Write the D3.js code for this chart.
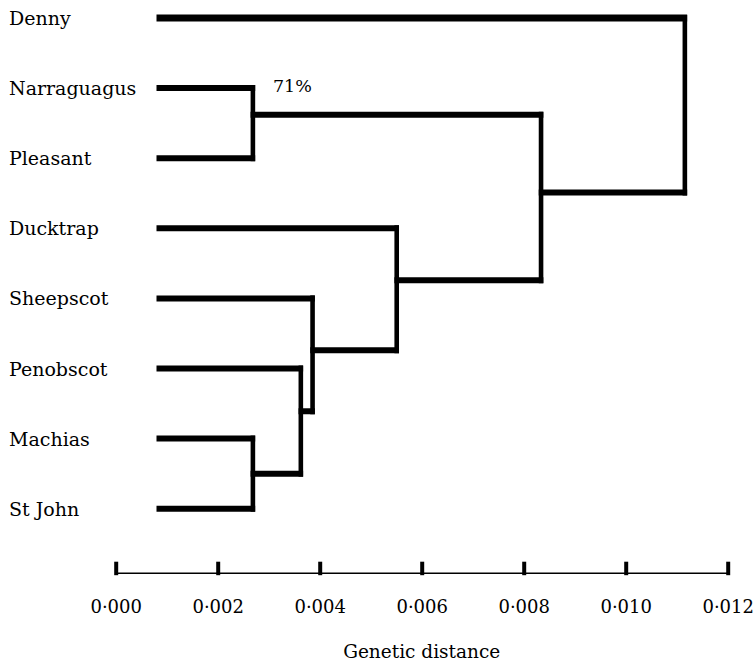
<!DOCTYPE html>
<html>
<head>
<meta charset="utf-8">
<script src="https://cdn.jsdelivr.net/npm/d3@7/dist/d3.min.js"></script>
<style>
  html, body { margin: 0; padding: 0; background: #fff; }
  svg { display: block; }
  text { font-family: "DejaVu Serif", "Liberation Serif", serif; fill: #000; }
</style>
</head>
<body>
<svg id="chart" width="756" height="663"></svg>
<script>
// ---- data ----
const leaves = ["Denny", "Narraguagus", "Pleasant", "Ducktrap", "Sheepscot", "Penobscot", "Machias", "St John"];
const leafDistance = 0.0008;          // where leaf branches start on the distance axis
const nodeIds = ["NP", "MS", "PMS", "SPMS", "DSPMS", "NPD", "root"];
const nodeDistance = [0.00269, 0.00269, 0.00363, 0.00386, 0.00551, 0.00834, 0.01116];
const nodeRow = [1.38, 6.50, 5.61, 4.74, 3.74, 2.49, 1.25];
const nodeChildren = [
  ["Narraguagus", "Pleasant"],
  ["Machias", "St John"],
  ["Penobscot", "MS"],
  ["Sheepscot", "PMS"],
  ["Ducktrap", "SPMS"],
  ["NP", "DSPMS"],
  ["Denny", "NPD"]
];
const bootstrapNodes = ["NP"];
const bootstrapLabels = ["71%"];
const tickValues = [0, 0.002, 0.004, 0.006, 0.008, 0.010, 0.012];
const axisTitle = "Genetic distance";

// ---- layout ----
const svg = d3.select("#chart");
const x = d3.scaleLinear().domain([0, 0.012]).range([115.7, 727.7]);
const y = d3.scaleLinear().domain([0, 7]).range([18, 508.7]);

const pos = {};
leaves.forEach((name, i) => { pos[name] = { x: x(leafDistance), y: y(i), leaf: true }; });
nodeIds.forEach((id, i) => { pos[id] = { x: x(nodeDistance[i]), y: y(nodeRow[i]), leaf: false }; });

const hW = 6, vW = 4.6;
const g = svg.append("g");

// horizontal branches + vertical connectors
nodeIds.forEach((id, i) => {
  const p = pos[id];
  nodeChildren[i].forEach(c => {
    const cp = pos[c];
    g.append("line")
      .attr("x1", cp.leaf ? cp.x : cp.x - vW / 2)
      .attr("x2", p.x + vW / 2)
      .attr("y1", cp.y).attr("y2", cp.y)
      .attr("stroke", "#000")
      .attr("stroke-width", c === "Denny" ? 7 : hW);
  });
  const ys = nodeChildren[i].map(c => pos[c].y);
  g.append("line")
    .attr("x1", p.x).attr("x2", p.x)
    .attr("y1", d3.min(ys) - hW / 2)
    .attr("y2", d3.max(ys) + hW / 2)
    .attr("stroke", "#000")
    .attr("stroke-width", vW);
});

// leaf labels
svg.append("g").selectAll("text").data(leaves).join("text")
  .attr("x", 9)
  .attr("y", (d, i) => y(i) + 7)
  .attr("font-size", 19)
  .text(d => d);

// bootstrap labels
bootstrapNodes.forEach((id, i) => {
  svg.append("text")
    .attr("x", pos[id].x + 20)
    .attr("y", pos[id].y - 22.5)
    .attr("font-size", 17.5)
    .text(bootstrapLabels[i]);
});

// axis
const axisY = 572.7;
const axis = d3.axisBottom(x)
  .tickValues(tickValues)
  .tickSizeOuter(0)
  .tickSize(0)
  .tickPadding(0)
  .tickFormat(d => d3.format(".3f")(d).replace(".", "\u00B7"));
const ag = svg.append("g").attr("transform", `translate(0,${axisY})`).call(axis);
ag.select(".domain").attr("stroke", "#000").attr("stroke-width", 1.4);
ag.selectAll(".tick line")
  .attr("y1", -11).attr("y2", 2.5)
  .attr("stroke", "#000").attr("stroke-width", 4);
ag.selectAll(".tick text")
  .attr("y", 40).attr("dy", 0)
  .attr("font-size", 18)
  .attr("font-family", "DejaVu Serif, serif")
  .attr("fill", "#000");

svg.append("text")
  .attr("x", (x.range()[0] + x.range()[1]) / 2)
  .attr("y", 658)
  .attr("text-anchor", "middle")
  .attr("font-size", 18.5)
  .text(axisTitle);
</script>
</body>
</html>
